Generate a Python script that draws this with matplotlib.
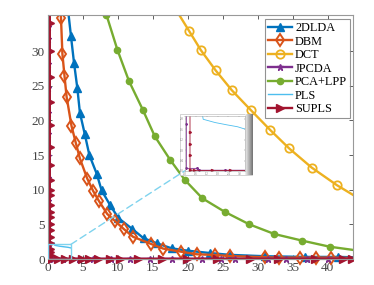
import numpy as np
import matplotlib
matplotlib.use("Agg")
import matplotlib.pyplot as plt
from matplotlib.transforms import Bbox, TransformedBbox
from matplotlib.patches import Rectangle, ConnectionPatch

plt.rcParams['font.family'] = ['Liberation Serif', 'DejaVu Serif']

# ---------------- data ----------------
dlda_x = [2.9, 3.33, 3.76, 4.24, 4.6, 5.3, 5.95, 7.0, 7.7, 8.9, 10.1, 12.0, 13.7, 15.6, 17.7, 20.0,
          23.2, 26.0, 31.0, 36.7, 41.5, 43.7]
dlda_y = [36.0, 32.1, 28.3, 24.6, 21.1, 18.0, 15.0, 12.3, 9.9, 7.8, 5.9, 4.4, 3.0, 2.26, 1.54, 1.2,
          0.86, 0.6, 0.4, 0.3, 0.3, 0.25]

dbm_x = [1.8, 1.9, 2.1, 2.4, 2.7, 3.4, 4.0, 4.6, 5.65, 6.5, 7.3, 8.5, 9.6, 10.9, 12.2, 14.7, 16.5,
         19.1, 21.3, 23.9, 26.0, 31.0, 33.1, 36.0, 38.4, 40.5, 43.7]
dbm_y = [36.5, 34.7, 29.6, 26.4, 23.4, 19.2, 16.8, 14.5, 11.6, 9.8, 8.4, 6.5, 5.5, 4.3, 3.2, 2.2, 1.5,
         1.05, 0.68, 0.58, 0.43, 0.25, 0.2, 0.2, 0.2, 0.2, 0.15]

dct_x = [18.0, 20.2, 21.9, 24.0, 26.3, 29.0, 31.8, 34.5, 37.7, 41.3, 43.7]
dct_y = [36.5, 32.9, 30.1, 27.2, 24.35, 21.5, 18.6, 15.95, 13.2, 10.66, 9.2]

jp_left_y = [36.0, 33.5, 31.7, 28.2, 24.6, 21.1, 18.0, 14.9, 11.7, 8.3, 5.0, 1.8, 0.1]
jp_bottom_x = [0.7, 0.8, 2.2, 4.5, 6.5, 9.1, 11.8, 14.6, 17.7, 19.6, 22.0, 24.8, 26.8,
               31.5, 34.0, 37.0, 40.0, 43.7]
jp_bottom_y = [0.1, 0.03, 0.03, 0.03, 0.03, 0.03, 0.03, 0.03, 0.03, 0.03, 0.03, 0.03, 0.03,
               0.03, 0.03, 0.03, 0.03, 0.03]
jp_x = [0.1] * len(jp_left_y) + jp_bottom_x
jp_y = jp_left_y + jp_bottom_y

pca_x = [7.9, 8.4, 9.95, 11.6, 13.6, 15.3, 17.5, 19.6, 22.1, 25.3, 28.8, 32.4, 36.4, 40.3, 43.7]
pca_y = [37.5, 35.2, 30.2, 25.7, 21.5, 17.7, 14.3, 11.4, 8.75, 6.8, 5.0, 3.6, 2.64, 1.77, 1.3]

pls_x = [0.94, 1.02, 1.67, 2.33, 2.89, 3.3]
pls_y = [2.3, 1.975, 1.85, 1.76, 1.69, 1.6]

su_left_y = [36.0, 34.0, 30.0, 26.2, 22.7, 19.3, 16.2, 13.5, 11.4, 9.9, 9.2, 7.8, 6.8, 6.1, 5.1,
             4.2, 3.2, 2.25, 1.5, 1.05, 0.6, 0.05]
su_bottom_x = [0.5, 1.5, 2.5, 3.6, 4.9, 5.9, 7.2, 8.9, 10.3, 12.9, 16.3, 19.9, 24.2,
               28.9, 32.9, 38.2, 42.2, 43.5]
su_x = [0.3] * len(su_left_y) + su_bottom_x
su_y = su_left_y + [0.02] * len(su_bottom_x)

labels = ['2DLDA', 'DBM', 'DCT', 'JPCDA', 'PCA+LPP', 'PLS', 'SUPLS']
colors = ['#0072BD', '#D95319', '#EDB120', '#7E2F8E', '#77AC30', '#4DBEEE', '#A2142F']

zoom_box = [3.3, 2.1]   # zoomed region (x max, y max)

# ---------------- figure ----------------
W, H = 374, 285
fig = plt.figure(figsize=(W / 100, H / 100), dpi=100)
L, R, T, B = 47.7, 353.3, 15, 259
ax = fig.add_axes([L / W, 1 - B / H, (R - L) / W, (B - T) / H])

series = [
    (dlda_x, dlda_y, dict(marker='^', ms=6, mfc=colors[0], mec=colors[0], markevery=slice(0, -1))),
    (dbm_x, dbm_y, dict(marker='d', ms=6, mfc='none', mec=colors[1], mew=1.4, markevery=slice(0, -1))),
    (dct_x, dct_y, dict(marker='o', ms=6, mfc='none', mec=colors[2], mew=1.3, markevery=slice(1, -1))),
    (jp_x, jp_y, dict(marker='*', ms=4.5, mfc=colors[3], mec=colors[3], markevery=slice(1, -1))),
    (pca_x, pca_y, dict(marker='o', ms=4.5, mfc=colors[4], mec=colors[4], markevery=slice(1, -1))),
    (pls_x, pls_y, dict(marker='None', lw=1.0)),
    (su_x, su_y, dict(marker='>', ms=6, mfc=colors[6], mec=colors[6])),
]

clip = TransformedBbox(Bbox([[0, -0.06], [1.0, 1.0]]), ax.transAxes)
for (x, y, kw), lab, c in zip(series, labels, colors):
    kw = dict(kw)
    lw = kw.pop('lw', 1.7)
    ln, = ax.plot(x, y, color=c, lw=lw, label=lab, **kw)
    ln.set_clip_box(clip)

ax.set_xlim(0, 43.66)
ax.set_ylim(0, 35.2)
ax.set_xticks([0, 5, 10, 15, 20, 25, 30, 35, 40])
ax.set_yticks([0, 5, 10, 15, 20, 25, 30])
ax.tick_params(direction='in', top=True, right=True, labelsize=9.5, colors='#444444',
               length=3, width=0.6, pad=2)
for s in ax.spines.values():
    s.set_color('#999999')
    s.set_linewidth(0.8)

# zoom rectangle and connector
ax.add_patch(Rectangle((0, 0), zoom_box[0], zoom_box[1], fill=False, ec='#7fd3ee', lw=1.0, zorder=5))

leg = ax.legend(loc='upper right', bbox_to_anchor=(0.994, 0.988), fontsize=8.8, frameon=True,
                fancybox=False, edgecolor='#777777', handlelength=2.0, handletextpad=0.25,
                labelspacing=0.12, borderpad=0.25, borderaxespad=0.1)
leg.get_frame().set_linewidth(0.8)

# ---------------- inset ----------------
fx0, fx1, fy0, fy1 = 179.5, 252, 114, 175
fig.patches.append(Rectangle((fx0 / W, 1 - fy1 / H), (fx1 - fx0) / W, (fy1 - fy0) / H,
                             transform=fig.transFigure, fc='white', ec='#cccccc', lw=0.6, zorder=3))
# shadow gradient on the right side
sh = fig.add_axes([245 / W, 1 - fy1 / H, 8 / W, (fy1 - fy0) / H], zorder=4)
grad = np.linspace(0.95, 0.45, 50)[None, :]
sh.imshow(grad, aspect='auto', cmap='gray', vmin=0, vmax=1, extent=[0, 1, 0, 1])
sh.axis('off')

ia = fig.add_axes([184.5 / W, 1 - 171 / H, (245 - 184.5) / W, (171 - 116) / H], zorder=5)
for (x, y, kw), c in zip(series, colors):
    kw = dict(kw)
    kw.pop('lw', None)
    kw.pop('markevery', None)
    kw['ms'] = 1.5
    if 'mew' in kw:
        kw['mew'] = 0.5
    ia.plot(x, y, color=c, lw=0.6, **kw)
ia.set_xlim(0, zoom_box[0])
ia.set_ylim(0, zoom_box[1])
ia.set_xticks([0, 0.6, 1.2, 1.8, 2.4, 3.0])
ia.set_yticks([0, 0.4, 0.8, 1.2, 1.6, 2.0])
ia.tick_params(direction='in', labelsize=2.2, length=1, width=0.3, pad=0.5, colors='#777777',
               top=True, right=True)
for s in ia.spines.values():
    s.set_color('#aaaaaa')
    s.set_linewidth(0.4)

con = ConnectionPatch(xyA=(zoom_box[0], zoom_box[1]), coordsA=ax.transData,
                      xyB=(0, 0), coordsB=ia.transAxes, color='#7fd3ee', lw=1.0,
                      linestyle=(0, (5, 3)), zorder=6)
fig.add_artist(con)

fig.savefig('out.png', dpi=100)
